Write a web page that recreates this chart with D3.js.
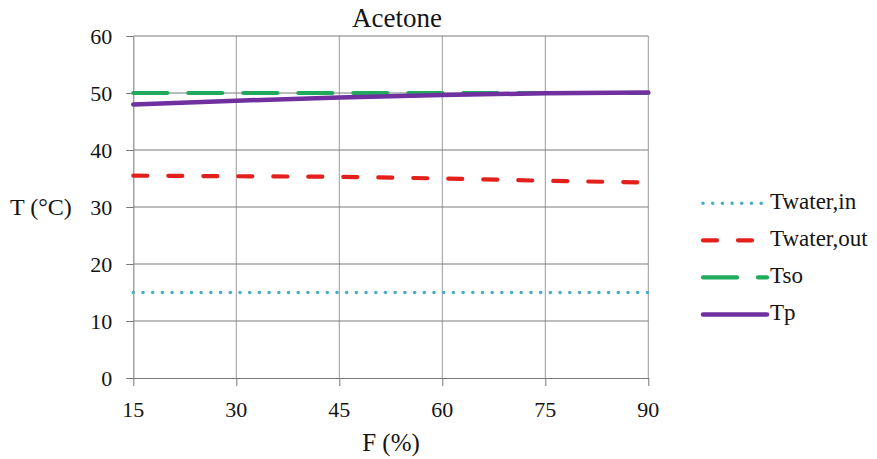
<!DOCTYPE html>
<html>
<head>
<meta charset="utf-8">
<script src="https://cdn.jsdelivr.net/npm/d3@7"></script>
<style>
  svg text { font-family: "Liberation Serif", "Tinos", serif !important; }
</style>
</head>
<body style="margin:0">
<svg id="plotArea" width="877" height="459"></svg>
<script>
// Feed fraction F (%) and the four temperatures (°C)
const fPercent   = [15, 30, 45, 60, 75, 90];
const tWaterIn   = [15, 15, 15, 15, 15, 15];
const tWaterOut  = [35.5, 35.4, 35.3, 35.0, 34.6, 34.3];
const tSo        = [50, 50, 50, 50, 50, 50];
const tP         = [48.0, 48.65, 49.2, 49.65, 49.95, 50.1];

const xTicks = [15, 30, 45, 60, 75, 90];
const yTicks = [0, 10, 20, 30, 40, 50, 60];

const seriesNames  = ["Twater,in", "Twater,out", "Tso", "Tp"];
const seriesValues = [tWaterIn, tWaterOut, tSo, tP];

const INK = "#141414";

const styles = [
  { color: "#4bacc6", width: 3.6, dash: "0 9.7" },
  { color: "#e3201b", width: 4.2, dash: "14 21" },
  { color: "#1faa5c", width: 4.2, dash: "34 21" },
  { color: "#7030a0", width: 4.5, dash: null }
];

const svg = d3.select("#plotArea");
const plot = { left: 133.3, right: 648.3, top: 36, bottom: 378 };

const x = d3.scaleLinear().domain([15, 90]).range([plot.left, plot.right]);
const y = d3.scaleLinear().domain([0, 60]).range([plot.bottom, plot.top]);

// text helper: serif face set on every label
function label(sel, size) {
  return sel
    .attr("font-family", "Liberation Serif")
    .style("font-family", "'Liberation Serif', serif")
    .attr("font-size", size)
    .attr("fill", INK);
}

// vertical gridlines
svg.append("g")
  .selectAll("line")
  .data(xTicks.slice(1))
  .join("line")
  .attr("x1", d => x(d)).attr("x2", d => x(d))
  .attr("y1", plot.top).attr("y2", plot.bottom)
  .attr("stroke", "#9a9a9a").attr("stroke-width", 1);

// horizontal gridlines
svg.append("g")
  .selectAll("line")
  .data(yTicks.slice(1))
  .join("line")
  .attr("x1", plot.left).attr("x2", plot.right)
  .attr("y1", d => y(d)).attr("y2", d => y(d))
  .attr("stroke", "#7a7a7a").attr("stroke-width", 1);

// axes: lines and tick marks from d3, labels written separately
const yAxis = svg.append("g")
  .attr("transform", `translate(${plot.left},0)`)
  .call(d3.axisLeft(y).tickValues(yTicks).tickSize(7).tickFormat("").tickSizeOuter(0));
const xAxis = svg.append("g")
  .attr("transform", `translate(0,${plot.bottom})`)
  .call(d3.axisBottom(x).tickValues(xTicks).tickSize(8).tickFormat("").tickSizeOuter(0));

[yAxis, xAxis].forEach(g => {
  g.attr("font-family", null);
  g.select(".domain").attr("stroke", "#777").attr("stroke-width", 1);
  g.selectAll(".tick line").attr("stroke", "#777").attr("stroke-width", 1);
  g.selectAll(".tick text").remove();
});

label(svg.append("g").selectAll("text")
  .data(yTicks)
  .join("text")
  .attr("x", plot.left - 21)
  .attr("y", d => y(d) + 7.5)
  .attr("text-anchor", "end"), 22)
  .text(d => d);

label(svg.append("g").selectAll("text")
  .data(xTicks)
  .join("text")
  .attr("x", d => x(d))
  .attr("y", 416.5)
  .attr("text-anchor", "middle"), 22)
  .text(d => d);

// series lines
const line = d3.line()
  .x((d, i) => x(fPercent[i]))
  .y(d => y(d));

seriesValues.forEach((vals, k) => {
  const s = styles[k];
  svg.append("path")
    .datum(vals)
    .attr("d", line)
    .attr("fill", "none")
    .attr("stroke", s.color)
    .attr("stroke-width", s.width)
    .attr("stroke-linecap", "round")
    .attr("stroke-dasharray", s.dash);
});

// title
label(svg.append("text")
  .attr("x", 397).attr("y", 27)
  .attr("text-anchor", "middle"), 27)
  .text("Acetone");

// axis titles
label(svg.append("text")
  .attr("x", 10).attr("y", 215), 24)
  .text("T (°C)");

label(svg.append("text")
  .attr("x", 391).attr("y", 451)
  .attr("text-anchor", "middle"), 25)
  .text("F (%)");

// legend
const legend = svg.append("g");
const legendY = [203.3, 240.3, 277.4, 314.4];
seriesNames.forEach((name, k) => {
  const s = styles[k];
  const ly = legendY[k];
  legend.append("line")
    .attr("x1", 703).attr("x2", 767)
    .attr("y1", ly).attr("y2", ly)
    .attr("stroke", s.color)
    .attr("stroke-width", s.width)
    .attr("stroke-linecap", "round")
    .attr("stroke-dasharray", s.dash);
  label(legend.append("text")
    .attr("x", 770).attr("y", ly + 5.5), 23)
    .text(name);
});
</script>
</body>
</html>
